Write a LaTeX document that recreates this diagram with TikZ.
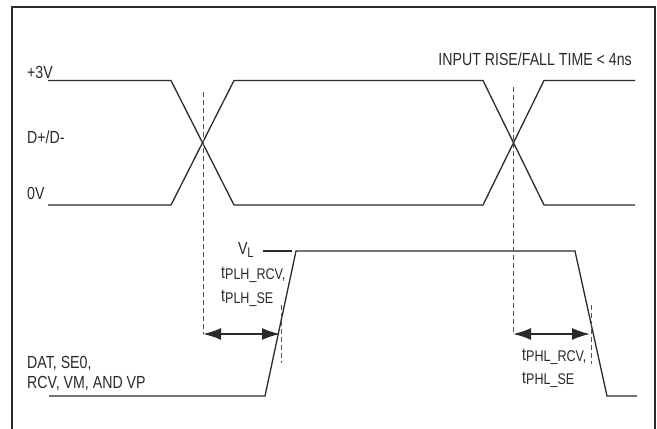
\documentclass[tikz,border=0pt]{standalone}
\usepackage{fontspec}
\setmainfont{Liberation Sans}[FakeStretch=0.81]
\usetikzlibrary{arrows.meta}
\definecolor{ink}{HTML}{2A2A2A}
\definecolor{dashc}{HTML}{555555}
\newcommand{\lblfont}{\fontsize{17.5}{20}\selectfont}
\newcommand{\subfont}{\fontsize{15.5}{15.5}\selectfont}
\newcommand{\tsub}[1]{t{\subfont\raisebox{-1.5pt}{#1}}}
\begin{document}
\begin{tikzpicture}[x=1pt,y=-1pt,
  sig/.style={draw=ink, line width=1.3pt, line join=miter},
  guide/.style={draw=dashc, line width=0.9pt, dash pattern=on 5pt off 3pt},
  frame/.style={draw=ink, line width=2pt},
  lbl/.style={inner sep=0pt, text=ink, font=\lblfont},
  dim/.style={draw=ink, line width=1.8pt, {Latex[length=18pt,width=12pt]}-{Latex[length=18pt,width=12pt]}}
]
\useasboundingbox (0,0) rectangle (657,429);
% frame (open at bottom)
\coordinate (fbl) at (12,429);
\coordinate (ftl) at (12,7);
\coordinate (ftr) at (655,7);
\coordinate (fbr) at (655,429);
\draw[frame] (fbl) -- (ftl) -- (ftr) -- (fbr);

% D+/D- waveform coordinates
\coordinate (h0) at (48,80.5);
\coordinate (l0) at (48,205);
\coordinate (h1) at (171,80.5);
\coordinate (l1) at (171,205);
\coordinate (h2) at (234,80.5);
\coordinate (l2) at (234,205);
\coordinate (h3) at (483,80.5);
\coordinate (l3) at (483,205);
\coordinate (h4) at (544,80.5);
\coordinate (l4) at (544,205);
\coordinate (h5) at (635,80.5);
\coordinate (l5) at (635,205);
\draw[sig] (h0) -- (h1) -- (l2) -- (l3) -- (h4) -- (h5);
\draw[sig] (l0) -- (l1) -- (h2) -- (h3) -- (l4) -- (l5);

% DAT waveform
\coordinate (d0) at (49,396);
\coordinate (d1) at (265,396);
\coordinate (d2) at (296,251);
\coordinate (d3) at (575,251);
\coordinate (d4) at (607,396);
\coordinate (d5) at (637,396);
\draw[sig] (d0) -- (d1) -- (d2) -- (d3) -- (d4) -- (d5);

% V_L marker line
\coordinate (vla) at (263,251);
\coordinate (vlb) at (292,251);
\draw[sig, line width=1.1pt] (vla) -- (vlb);

% dashed guides
\coordinate (g1t) at (203,92);
\coordinate (aL1) at (203,334);
\coordinate (g2t) at (513,87);
\coordinate (aR1) at (513,334);
\coordinate (g3t) at (281,305);
\coordinate (g3b) at (281,363);
\coordinate (g4t) at (591,305);
\coordinate (g4b) at (591,364);
\draw[guide] (g1t) -- (aL1);
\draw[guide] (g2t) -- (aR1);
\draw[guide] (g3t) -- (g3b);
\draw[guide] (g4t) -- (g4b);

% dimension arrows
\coordinate (aL2) at (280,334);
\coordinate (aR2) at (590,334);
\draw[dim] (aL1) -- (aL2);
\draw[dim] (aR1) -- (aR2);

% labels
\node[lbl, anchor=base west] (p3v) at (27,78.5) {+3V};
\node[lbl, anchor=base west] (dpm) at (27,143) {D+/D-};
\node[lbl, anchor=base west] (zv) at (27,199) {0V};
\node[lbl, anchor=base east] (inp) at (632,65) {INPUT RISE/FALL TIME < 4ns};
\node[lbl, anchor=base west] (dat1) at (27,368) {DAT, SE0,};
\node[lbl, anchor=base west] (dat2) at (27,388) {RCV, VM, AND VP};
\node[lbl, anchor=base east] (vl) at (254,254) {V{\fontsize{14}{14}\selectfont\raisebox{-3.5pt}{L}}};
\node[lbl, anchor=base west] (tplh1) at (221,278) {\tsub{PLH\_RCV,}};
\node[lbl, anchor=base west] (tplh2) at (221,301.5) {\tsub{PLH\_SE}};
\node[lbl, anchor=base west] (tphl1) at (522,360) {\tsub{PHL\_RCV,}};
\node[lbl, anchor=base west] (tphl2) at (522,383) {\tsub{PHL\_SE}};
\end{tikzpicture}
\end{document}
